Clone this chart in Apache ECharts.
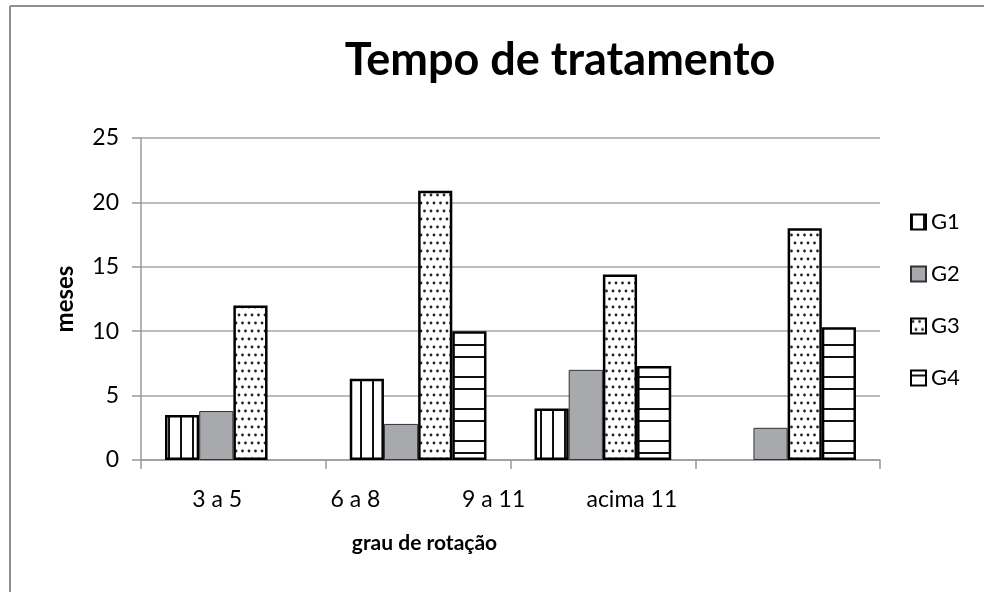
<!DOCTYPE html>
<html>
<head>
<meta charset="utf-8">
<script src="https://cdn.jsdelivr.net/npm/echarts@6/dist/echarts.min.js"></script>
<style>
  html, body { margin: 0; padding: 0; background: #fff; }
  #chart { width: 984px; height: 592px; }
</style>
</head>
<body>
<div id="chart"></div>
<script>
const categories = ['3 a 5', '6 a 8', '9 a 11', 'acima 11']
const g1 = [3.5, 6.3, 4.0, null]
const g2 = [3.8, 2.8, 7.0, 2.5]
const g3 = [12.0, 20.9, 14.4, 18.0]
const g4 = [null, 10.0, 7.3, 10.3]
const yTicks = { min: 0, max: 25, step: 5 }

const FONT = 'Lato, "Open Sans", sans-serif'

// little canvas tiles used as fills
function tile(w, h, draw) {
  const c = document.createElement('canvas')
  c.width = w
  c.height = h
  const ctx = c.getContext('2d')
  ctx.fillStyle = '#fff'
  ctx.fillRect(0, 0, w, h)
  draw(ctx)
  return { image: c, repeat: 'repeat' }
}

const vLines = tile(12, 4, ctx => {
  ctx.fillStyle = '#111'
  ctx.fillRect(0, 0, 2, 4)
})

const hLines = tile(4, 32, ctx => {
  ctx.fillStyle = '#111'
  ctx.fillRect(0, 4, 4, 2)
  ctx.fillRect(0, 24, 4, 2)
})

const dots = tile(13, 16, ctx => {
  ctx.fillStyle = '#222'
  const pts = [[2, 3], [8.5, 3], [5, 11], [11.5, 11]]
  pts.forEach(([x, y]) => {
    ctx.beginPath()
    ctx.arc(x, y, 1.4, 0, Math.PI * 2)
    ctx.fill()
  })
})

const chart = echarts.init(document.getElementById('chart'))

function bar(name, data, color, border) {
  return {
    name,
    type: 'bar',
    data,
    xAxisIndex: 0,
    yAxisIndex: 0,
    barGap: '0%',
    barCategoryGap: '26%',
    itemStyle: { color, borderColor: border.color, borderWidth: border.width },
    emphasis: { disabled: true }
  }
}

const blackEdge = { color: '#000', width: 2.5 }

chart.setOption({
  animation: false,
  backgroundColor: '#fff',
  textStyle: { fontFamily: FONT },
  title: {
    text: 'Tempo de tratamento',
    left: 555,
    top: 33,
    textAlign: 'center',
    textStyle: { fontFamily: FONT, fontSize: 45, fontWeight: 'bold', color: '#000' }
  },
  legend: {
    orient: 'vertical',
    left: 910,
    top: 211,
    padding: 0,
    icon: 'rect',
    itemWidth: 15,
    itemHeight: 15,
    itemGap: 30,
    textStyle: { fontFamily: FONT, fontSize: 22, color: '#000' },
    data: ['G1', 'G2', 'G3', 'G4']
  },
  grid: [
    { left: 141, right: 104, top: 138, bottom: 132 },
    { left: 148, right: 283, top: 138, bottom: 132 }
  ],
  xAxis: [
    {
      type: 'category',
      gridIndex: 0,
      data: categories,
      axisLine: { lineStyle: { color: '#999', width: 1.5 } },
      axisTick: { show: true, length: 9, lineStyle: { color: '#999', width: 1.5 } },
      axisLabel: { show: false }
    },
    {
      type: 'category',
      gridIndex: 1,
      data: categories,
      axisLine: { show: false },
      axisTick: { show: false },
      axisLabel: { margin: 28, fontFamily: FONT, fontSize: 23, color: '#000' },
      name: 'grau de rotação',
      nameLocation: 'middle',
      nameGap: 73,
      nameTextStyle: { fontFamily: FONT, fontSize: 21, fontWeight: 'bold', color: '#000' }
    }
  ],
  yAxis: [
    {
      type: 'value',
      gridIndex: 0,
      min: yTicks.min,
      max: yTicks.max,
      interval: yTicks.step,
      axisLine: { show: true, lineStyle: { color: '#999', width: 1.5 } },
      axisTick: { show: true, length: 9, lineStyle: { color: '#999', width: 1.5 } },
      splitLine: { lineStyle: { color: '#a6a6a6', width: 1.5 } },
      axisLabel: { margin: 22, fontFamily: FONT, fontSize: 23, color: '#000' },
      name: 'meses',
      nameLocation: 'middle',
      nameGap: 64,
      nameTextStyle: { fontFamily: FONT, fontSize: 24, fontWeight: 'bold', color: '#000' }
    },
    { type: 'value', gridIndex: 1, show: false, min: 0, max: 25 }
  ],
  graphic: [
    { type: 'line', shape: { x1: 10, y1: 6, x2: 10, y2: 592 }, style: { stroke: '#8f8f8f', lineWidth: 2 } },
    { type: 'line', shape: { x1: 10, y1: 6, x2: 984, y2: 6 }, style: { stroke: '#8f8f8f', lineWidth: 2 } }
  ],
  series: [
    bar('G1', g1, vLines, blackEdge),
    bar('G2', g2, '#a7a9ac', { color: '#333', width: 1 }),
    bar('G3', g3, dots, blackEdge),
    bar('G4', g4, hLines, blackEdge)
  ]
})
</script>
</body>
</html>
